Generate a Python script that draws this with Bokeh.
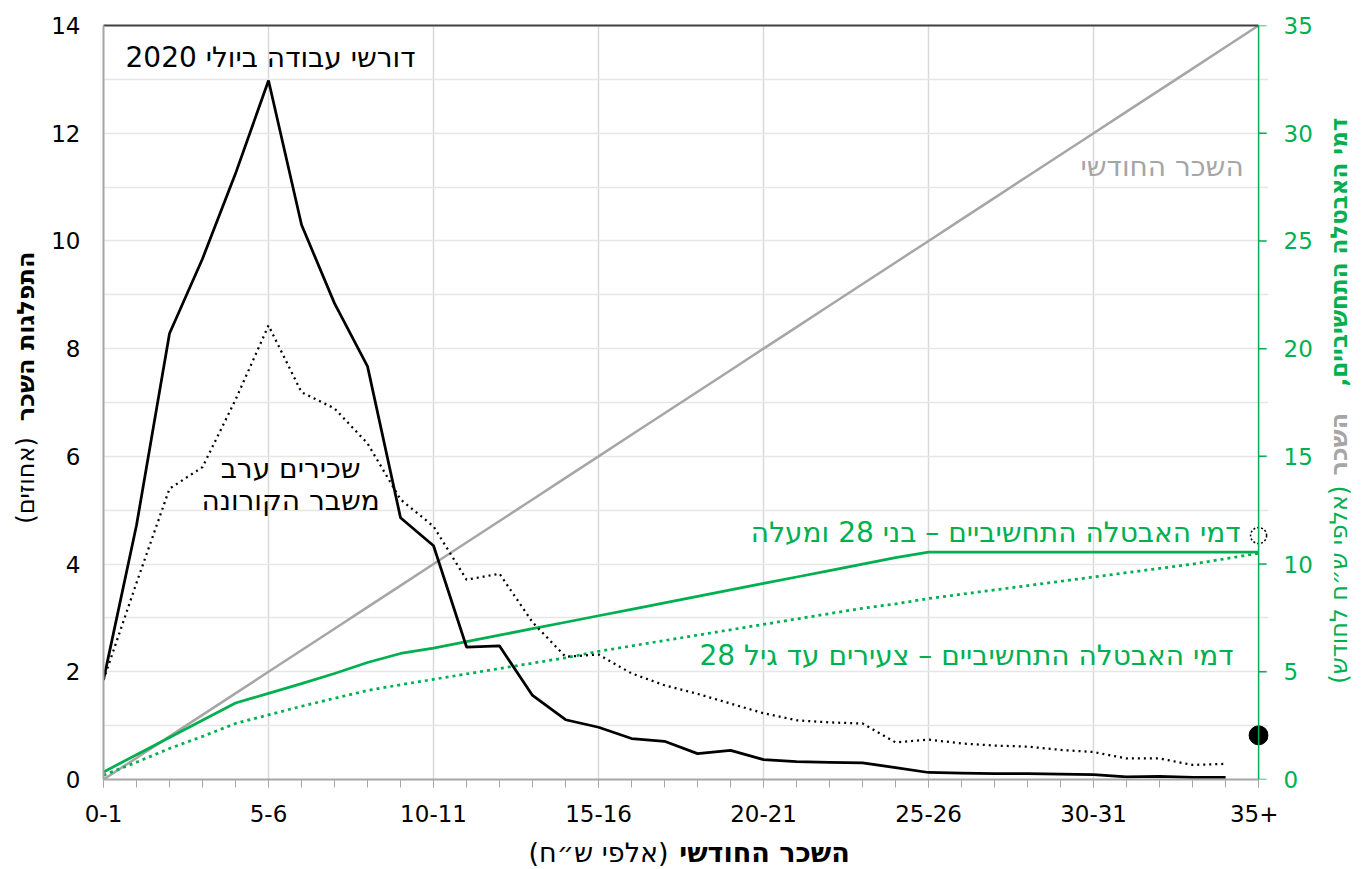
import math
from bokeh.plotting import figure
from bokeh.layouts import row, column
from bokeh.models import Range1d, LinearAxis, FixedTicker, Label, Span
from bokeh.embed import file_html
from bokeh.resources import INLINE

# ---------------- data ----------------
tick_labels = {0: "0-1", 5: "5-6", 10: "10-11", 15: "15-16", 20: "20-21",
               25: "25-26", 30: "30-31", 35: "35+"}

# wage bins 0-1 ... 34-35 (position index)
bins = list(range(35))
# job seekers July 2020 (% of total)
seekers = [1.85, 4.72, 8.28, 9.67, 11.25, 12.98, 10.3, 8.84, 7.67, 4.86,
           4.34, 2.46, 2.48, 1.56, 1.11, 0.97, 0.76, 0.71, 0.48, 0.54,
           0.37, 0.33, 0.32, 0.31, 0.22, 0.13, 0.12, 0.11, 0.11, 0.10,
           0.09, 0.05, 0.06, 0.04, 0.04]
# employees before the corona crisis (% of total)
employees = [1.85, 3.65, 5.4, 5.8, 7.05, 8.43, 7.19, 6.89, 6.24, 5.2,
             4.7, 3.71, 3.82, 2.92, 2.28, 2.32, 1.97, 1.75, 1.59, 1.41,
             1.23, 1.10, 1.06, 1.04, 0.69, 0.74, 0.67, 0.63, 0.61, 0.55,
             0.51, 0.39, 0.39, 0.27, 0.29]
# 35+ bin (single points)
seekers_35plus = 0.82
employees_35plus = 4.53

# right axis (thousand NIS per month), positions 0..35
bins_all = list(range(36))
salary = [0, 1, 2, 3, 4, 5, 6, 7, 8, 9, 10, 11, 12, 13, 14, 15, 16, 17,
          18, 19, 20, 21, 22, 23, 24, 25, 26, 27, 28, 29, 30, 31, 32, 33, 34, 35]
benefit_28plus = [0.35, 1.15, 1.95, 2.75, 3.55, 4.0, 4.45, 4.92, 5.43, 5.85,
                  6.1, 6.4, 6.7, 7.0, 7.3, 7.6, 7.9, 8.2, 8.5, 8.8,
                  9.1, 9.4, 9.7, 10.0, 10.3, 10.55, 10.55, 10.55, 10.55, 10.55,
                  10.55, 10.55, 10.55, 10.55, 10.55, 10.55]
benefit_young = [0.2, 0.8, 1.44, 2.0, 2.6, 3.0, 3.4, 3.77, 4.13, 4.4,
                 4.65, 4.9, 5.15, 5.4, 5.65, 5.95, 6.2, 6.45, 6.7, 6.95,
                 7.2, 7.45, 7.7, 7.95, 8.15, 8.4, 8.6, 8.8, 9.0, 9.2,
                 9.4, 9.6, 9.8, 10.0, 10.25, 10.5]
right_ticks = [0, 5, 10, 15, 20, 25, 30, 35]

GREEN = "#00B050"
GRAY = "#A6A6A6"
FONT = "DejaVu Sans"
H = 832

# ---------------- main chart ----------------
p = figure(width=1236, height=H, output_backend="svg", toolbar_location=None,
           x_range=Range1d(0, 35.3), y_range=Range1d(0, 14),
           min_border_left=61, min_border_right=10, min_border_top=25,
           min_border_bottom=53)
p.extra_y_ranges = {"right": Range1d(0, 35)}
p.outline_line_color = None
p.background_fill_color = "white"

# grids
p.xgrid.ticker = FixedTicker(ticks=[5, 10, 15, 20, 25, 30])
p.xgrid.grid_line_color = "#D9D9D9"
p.xgrid.grid_line_width = 1.5
p.ygrid.ticker = FixedTicker(ticks=list(range(1, 14)))
p.ygrid.grid_line_color = "#E6E6E6"
p.ygrid.grid_line_width = 1.5

# bottom axis
xa = p.xaxis[0]
xa.ticker = FixedTicker(ticks=[0, 5, 10, 15, 20, 25, 30, 35], minor_ticks=list(range(36)))
xa.bounds = (0, 35)
xa.major_label_overrides = tick_labels
xa.axis_line_color = GRAY
xa.axis_line_width = 2
xa.major_tick_line_color = GRAY
xa.minor_tick_line_color = GRAY
xa.major_tick_in = 0
xa.major_tick_out = 8
xa.minor_tick_in = 0
xa.minor_tick_out = 8
xa.major_label_text_font = FONT
xa.major_label_text_font_size = "23px"
xa.major_label_text_color = "black"
xa.major_label_standoff = 17

# left axis
ya = p.yaxis[0]
ya.ticker = FixedTicker(ticks=list(range(0, 15, 2)))
ya.axis_line_color = GRAY
ya.axis_line_width = 2
ya.major_tick_line_color = None
ya.minor_tick_line_color = None
ya.major_tick_out = 0
ya.minor_tick_out = 0
ya.major_label_text_font = FONT
ya.major_label_text_font_size = "23px"
ya.major_label_text_color = "black"
ya.major_label_standoff = 23

# top border line
ta = LinearAxis(ticker=FixedTicker(ticks=[]), bounds=(0, 35))
ta.axis_line_color = "#404040"
ta.axis_line_width = 2
ta.major_tick_line_color = None
ta.minor_tick_line_color = None
p.add_layout(ta, "above")

# right (green) axis line at x = 35 with short outward ticks
p.add_layout(Span(location=35, dimension="height", line_color=GREEN, line_width=1.5))
p.segment(x0=[35] * len(right_ticks), y0=right_ticks,
          x1=[35.24] * len(right_ticks), y1=right_ticks,
          y_range_name="right", line_color=GREEN, line_width=1.5)

# lines
p.line(bins_all, salary, y_range_name="right", line_color=GRAY, line_width=2.5)
p.line(bins_all, benefit_young, y_range_name="right", line_color=GREEN, line_width=2.75,
       line_dash="3 4")
p.line(bins_all, benefit_28plus, y_range_name="right", line_color=GREEN, line_width=2.75)
p.line(bins, employees, line_color="black", line_width=2.25, line_dash="2 4")
p.line(bins, seekers, line_color="black", line_width=2.75)

p.scatter([35], [employees_35plus], size=16, fill_color="white", line_color="black",
          line_width=1.5, line_dash="2 2")
p.scatter([35], [seekers_35plus], size=19, fill_color="black", line_color="black")


def lab(fig, x, y, text, size="28px", color="black", align="center", bold=False, angle=0.0):
    fig.add_layout(Label(x=x, y=y, text=text, text_font=FONT, text_font_size=size,
                         text_color=color, text_align=align, text_baseline="middle",
                         text_font_style="bold" if bold else "normal", angle=angle))


# in-plot annotations
lab(p, 5.06, 13.41, "דורשי עבודה ביולי 2020")
lab(p, 5.67, 5.77, "שכירים ערב")
lab(p, 5.67, 5.18, "משבר הקורונה")
lab(p, 34.55, 11.38, "השכר החודשי", color=GRAY, align="right")
lab(p, 34.45, 4.59, "דמי האבטלה התחשיביים – בני 28 ומעלה", color=GREEN, align="right")
lab(p, 34.24, 2.30, "דמי האבטלה התחשיביים – צעירים עד גיל 28", color=GREEN, align="right")

# ---------------- right tick labels (same vertical scale as the main chart) ----------------
rlab = figure(width=44, height=H, output_backend="svg", toolbar_location=None,
              x_range=Range1d(0, 1), y_range=Range1d(0, 35),
              min_border_left=0, min_border_right=43, min_border_top=25,
              min_border_bottom=53, x_axis_location=None, y_axis_location="right")
rlab.outline_line_color = None
rlab.grid.visible = False
rax = rlab.yaxis[0]
rax.ticker = FixedTicker(ticks=right_ticks)
rax.axis_line_color = None
rax.major_tick_line_color = None
rax.minor_tick_line_color = None
rax.major_tick_out = 0
rax.minor_tick_out = 0
rax.major_label_text_font = FONT
rax.major_label_text_font_size = "23px"
rax.major_label_text_color = GREEN
rax.major_label_standoff = 4


# ---------------- title strips ----------------
def strip(w, h):
    f = figure(width=w, height=h, output_backend="svg", toolbar_location=None,
               x_range=Range1d(0, w), y_range=Range1d(0, h), min_border=0,
               x_axis_location=None, y_axis_location=None)
    f.outline_line_color = None
    f.grid.visible = False
    return f


rot = math.pi / 2
left = strip(42, H)
lab(left, 25, H - 343, "התפלגות השכר", size="24px", bold=True, angle=rot)
lab(left, 25, H - 502, "(אחוזים)", size="24px", angle=rot)

right = strip(40, H)
lab(right, 16, H - 250, "דמי האבטלה התחשיביים,\u200f", size="23px", color=GREEN,
    bold=True, angle=rot)
lab(right, 16, H - 462, "השכר", size="24px", color=GRAY, bold=True, angle=rot)
lab(right, 16, H - 617, "(אלפי ש״ח לחודש)", size="24px", color=GREEN, angle=rot)

bottom = strip(1362, 37)
lab(bottom, 764, 37 - 20, "השכר החודשי", size="27px", bold=True)
lab(bottom, 598, 37 - 20, "(אלפי ש״ח)", size="27px")

layout = column(row(left, p, rlab, right), bottom)
open("out.html", "w").write(file_html(layout, INLINE))
